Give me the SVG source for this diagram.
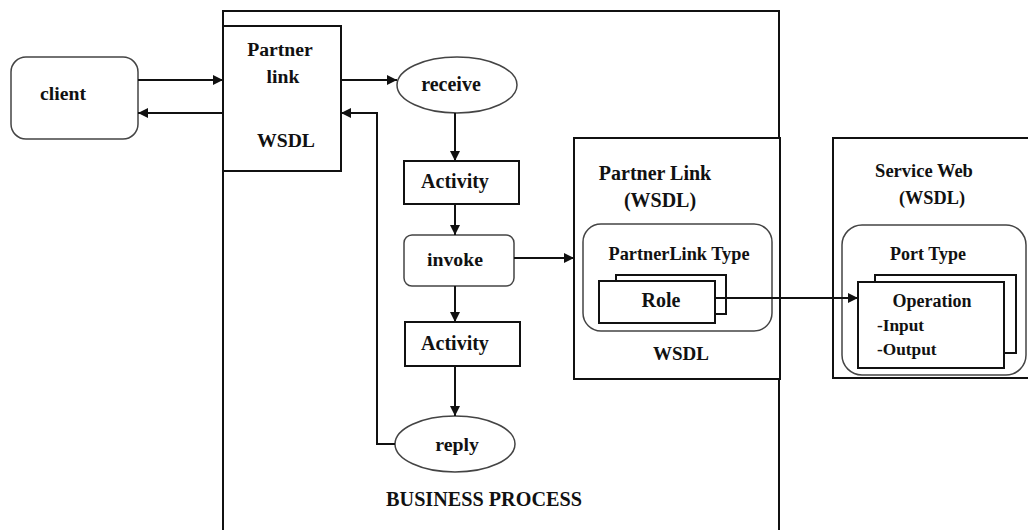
<svg xmlns="http://www.w3.org/2000/svg" width="1028" height="530" viewBox="0 0 1028 530">
  <style>
    .lbl { font-weight: bold; fill: #111; }
    .m { text-anchor: middle; }
    .box { fill: #fff; stroke: #111; stroke-width: 2; }
    .soft { fill: #fff; stroke: #444; stroke-width: 1.5; }
    .frame { fill: none; stroke: #111; stroke-width: 2; }
    .wire { fill: none; stroke: #111; stroke-width: 2; }
  </style>
  <defs>
    <marker id="arrow" viewBox="0 0 10 10" refX="10" refY="5" markerWidth="10" markerHeight="10" markerUnits="userSpaceOnUse" orient="auto">
      <path d="M0,0 L10,5 L0,10 Z" fill="#111"/>
    </marker>
  </defs>
  <rect width="1028" height="530" fill="#fff"/>

  <g font-family="Liberation Serif, Times New Roman, DejaVu Serif, serif">
  <!-- business process container (open at the bottom edge) -->
  <g id="business-process">
    <path class="frame" d="M223,532 V11 H779 V532"/>
    <text class="lbl m" x="484" y="506" font-size="20.2">BUSINESS PROCESS</text>
  </g>

  <g id="client">
    <rect class="soft" x="11" y="57" width="127" height="82" rx="15"/>
    <text class="lbl m" x="63" y="100" font-size="19.7">client</text>
  </g>

  <g id="partner-link">
    <rect class="box" x="223" y="26" width="118" height="145"/>
    <text class="lbl m" x="280" y="56" font-size="19.7">Partner</text>
    <text class="lbl m" x="283" y="83" font-size="19.7">link</text>
    <text class="lbl m" x="286" y="147" font-size="19.7">WSDL</text>
  </g>

  <g id="receive">
    <ellipse class="soft" cx="457" cy="85" rx="60" ry="28"/>
    <text class="lbl m" x="451" y="91" font-size="20">receive</text>
  </g>

  <g id="activity-1">
    <rect class="box" x="404" y="161" width="115" height="43"/>
    <text class="lbl m" x="455" y="188" font-size="20">Activity</text>
  </g>

  <g id="invoke">
    <rect class="soft" x="404" y="235" width="110" height="51" rx="8"/>
    <text class="lbl m" x="455" y="266" font-size="19.8">invoke</text>
  </g>

  <g id="activity-2">
    <rect class="box" x="405" y="322" width="115" height="44"/>
    <text class="lbl m" x="455" y="350" font-size="20">Activity</text>
  </g>

  <g id="reply">
    <ellipse class="soft" cx="455" cy="444" rx="60" ry="28"/>
    <text class="lbl m" x="457" y="451" font-size="19.8">reply</text>
  </g>

  <g id="partner-link-wsdl">
    <rect class="box" x="574" y="138" width="206" height="241"/>
    <text class="lbl m" x="655" y="180" font-size="20">Partner Link</text>
    <text class="lbl m" x="660" y="207" font-size="20">(WSDL)</text>
    <rect class="soft" x="583" y="224" width="189" height="107" rx="18"/>
    <text class="lbl m" x="679" y="260" font-size="18.3">PartnerLink Type</text>
    <rect class="box" x="616" y="275" width="110" height="39"/>
    <rect class="box" x="599" y="281" width="116" height="42"/>
    <text class="lbl m" x="661" y="307" font-size="20">Role</text>
    <text class="lbl m" x="681" y="360" font-size="19">WSDL</text>
  </g>

  <g id="service-web">
    <path class="frame" d="M1030,138 H833 V378 H1030"/>
    <text class="lbl m" x="924" y="177" font-size="18.5">Service Web</text>
    <text class="lbl m" x="932" y="204" font-size="18.3">(WSDL)</text>
    <rect class="soft" x="842" y="225" width="184" height="150" rx="20"/>
    <text class="lbl m" x="928" y="260" font-size="18">Port Type</text>
    <rect class="box" x="875" y="275" width="141" height="78"/>
    <rect class="box" x="858" y="282" width="146" height="86"/>
    <text class="lbl m" x="932" y="307" font-size="18">Operation</text>
    <text class="lbl" x="877" y="331" font-size="17.3">-Input</text>
    <text class="lbl" x="877" y="355" font-size="17.3">-Output</text>
  </g>
  </g>

  <g id="connectors">
    <path class="wire" d="M138,80 H223" marker-end="url(#arrow)"/>
    <path class="wire" d="M223,113 H138" marker-end="url(#arrow)"/>
    <path class="wire" d="M341,80 H397" marker-end="url(#arrow)"/>
    <path class="wire" d="M455,113 V161" marker-end="url(#arrow)"/>
    <path class="wire" d="M455,204 V235" marker-end="url(#arrow)"/>
    <path class="wire" d="M514,258 H574" marker-end="url(#arrow)"/>
    <path class="wire" d="M455,286 V322" marker-end="url(#arrow)"/>
    <path class="wire" d="M455,366 V416" marker-end="url(#arrow)"/>
    <path class="wire" d="M395,444 H377 V113 H341" marker-end="url(#arrow)"/>
    <path class="wire" d="M715,298 H858" marker-end="url(#arrow)"/>
  </g>
</svg>
